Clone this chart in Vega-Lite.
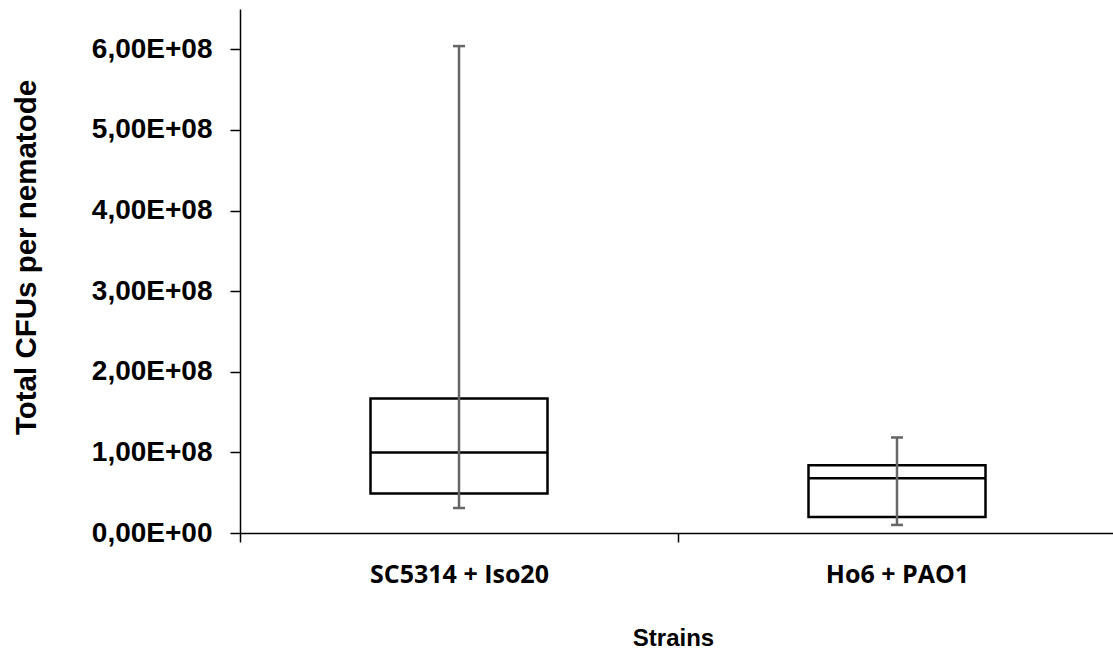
{
  "$schema": "https://vega.github.io/schema/vega-lite/v6.json",
  "width": 876,
  "height": 524,
  "autosize": {"type": "none"},
  "padding": {"left": 240, "top": 9, "right": 0, "bottom": 116},
  "background": "white",
  "config": {
    "view": {"stroke": null},
    "axis": {"grid": false, "domainColor": "black", "tickColor": "black", "domainWidth": 1.5, "tickWidth": 1.5}
  },
  "data": {
    "values": [
      {"strain": "SC5314 + Iso20", "lo": 31000000, "q1": 49000000, "median": 100000000, "q3": 166700000, "hi": 604000000},
      {"strain": "Ho6 + PAO1", "lo": 10000000, "q1": 20000000, "median": 68000000, "q3": 84000000, "hi": 118500000}
    ]
  },
  "encoding": {
    "x": {
      "field": "strain",
      "type": "nominal",
      "sort": null,
      "scale": {"paddingInner": 0, "paddingOuter": 0},
      "axis": {
        "title": "Strains",
        "labelAngle": 0,
        "tickBand": "extent",
        "tickSize": 9,
        "labelBaseline": "alphabetic",
        "labelPadding": 40,
        "labelFont": "Open Sans",
        "labelFontWeight": "bold",
        "labelFontSize": 25,
        "labelColor": "black",
        "titleFont": "Liberation Sans",
        "titleFontWeight": "bold",
        "titleFontSize": 24,
        "titleColor": "black",
        "titleX": 433,
        "titleY": 112,
        "titleBaseline": "alphabetic"
      }
    }
  },
  "layer": [
    {
      "mark": {"type": "bar", "size": 177, "fill": "white", "stroke": "black", "strokeWidth": 2.5},
      "encoding": {
        "y": {
          "field": "q1",
          "type": "quantitative",
          "scale": {"domain": [0, 650000000], "nice": false},
          "axis": {
            "title": "Total CFUs per nematode",
            "values": [0, 100000000, 200000000, 300000000, 400000000, 500000000, 600000000],
            "labelExpr": "replace(replace(format(datum.value, '.2e'), '.', ','), 'e+', 'E+0')",
            "tickSize": 10,
            "labelPadding": 18,
            "labelFont": "Liberation Sans",
            "labelFontWeight": "bold",
            "labelFontSize": 28,
            "labelColor": "black",
            "titleFont": "Liberation Sans",
            "titleFontWeight": "bold",
            "titleFontSize": 29.5,
            "titleColor": "black",
            "titleX": -205,
            "titleY": 248,
            "titleAngle": 270,
            "titleBaseline": "alphabetic"
          }
        },
        "y2": {"field": "q3"}
      }
    },
    {
      "mark": {"type": "tick", "size": 177, "thickness": 2.5, "color": "black", "opacity": 1},
      "encoding": {"y": {"field": "median", "type": "quantitative"}}
    },
    {
      "mark": {"type": "rule", "color": "#666666", "strokeWidth": 2.5},
      "encoding": {"y": {"field": "lo", "type": "quantitative"}, "y2": {"field": "hi"}}
    },
    {
      "mark": {"type": "tick", "size": 12, "thickness": 2.5, "color": "#666666", "opacity": 1},
      "encoding": {"y": {"field": "lo", "type": "quantitative"}}
    },
    {
      "mark": {"type": "tick", "size": 12, "thickness": 2.5, "color": "#666666", "opacity": 1},
      "encoding": {"y": {"field": "hi", "type": "quantitative"}}
    }
  ]
}
